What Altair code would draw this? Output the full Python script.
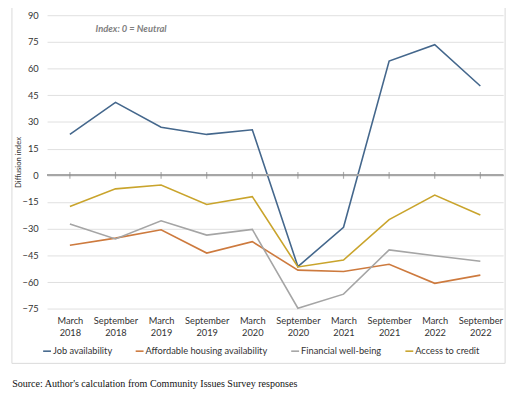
import altair as alt
import pandas as pd

categories = ["March 2018", "September 2018", "March 2019", "September 2019", "March 2020",
              "September 2020", "March 2021", "September 2021", "March 2022", "September 2022"]
series_names = ["Job availability", "Affordable housing availability", "Financial well-being", "Access to credit"]
job = [23, 41, 27, 23, 25.6, -51.3, -29.2, 64.2, 73.4, 50.2]
housing = [-39.3, -35.3, -30.6, -43.7, -37.3, -53.3, -54.1, -50.0, -60.7, -56.1]
financial = [-27.3, -35.8, -25.6, -33.6, -30.4, -74.7, -66.8, -41.9, -45.2, -48.3]
credit = [-17.5, -7.6, -5.4, -16.4, -12.0, -51.5, -47.6, -24.9, -11.1, -22.3]
colors = ["#44678C", "#CD7A3E", "#A5A5A5", "#C9A42C"]
y_ticks = [90, 75, 60, 45, 30, 15, 0, -15, -30, -45, -60, -75]
annotation = ["Index: 0 = Neutral"]
source = ["Source: Author's calculation from Community Issues Survey responses"]

rows = []
for name, vals in zip(series_names, [job, housing, financial, credit]):
    for c, v in zip(categories, vals):
        rows.append({"category": c, "series": name, "value": v})
df = pd.DataFrame(rows)
cat_df = pd.DataFrame({"category": categories})

W, H = 463.3, 298.2
FONT = "Lato"
FS = 9.4
xscale = alt.Scale(type="point", padding=0.5, domain=categories)
yscale = alt.Scale(domain=[-75, 90], nice=False, zero=False)

xaxis = alt.Axis(title=None, labelExpr="split(datum.label, ' ')", labelAngle=0,
                 domain=False, ticks=False, labelPadding=8, labelFontSize=FS,
                 labelColor="#333333", labelLineHeight=12.5, grid=False,
                 labelFont=FONT, labelOverlap=False)
yaxis = alt.Axis(title="Diffusion index", values=y_ticks, domain=False, ticks=False,
                 labelPadding=9, labelFontSize=FS, labelColor="#333333",
                 labelFont=FONT, gridColor="#e0e0e0", gridWidth=1, grid=True,
                 labelOverlap=False, labelBound=False, labelFlush=False,
                 titleFontSize=7.8, titleFont=FONT, titleFontWeight="normal",
                 titleColor="#333333", titlePadding=0)

frame = alt.Chart(pd.DataFrame({"a": [0]})).mark_rect(
    fillOpacity=0, stroke="#d9d9d9", strokeWidth=1
).encode(x=alt.value(-35.7), x2=alt.value(465.3), y=alt.value(-9.3), y2=alt.value(353.7))

lines = alt.Chart(df).mark_line(strokeWidth=1.6).encode(
    x=alt.X("category:N", scale=xscale, sort=categories, axis=xaxis),
    y=alt.Y("value:Q", scale=yscale, axis=yaxis),
    color=alt.Color("series:N", scale=alt.Scale(domain=series_names, range=colors),
                    sort=series_names,
                    legend=alt.Legend(title=None, orient="none", legendX=-5, legendY=336,
                                      direction="horizontal", symbolType="stroke",
                                      symbolSize=64, symbolStrokeWidth=1.6, labelOffset=1,
                                      columnPadding=20, labelFontSize=FS, labelFont=FONT,
                                      labelColor="#333333", columns=4)),
)

zero = alt.Chart(cat_df).mark_rule(color="#a6a6a6", strokeWidth=1.5).encode(
    y=alt.datum(0, scale=yscale, axis=yaxis)
)
ticks = alt.Chart(cat_df).mark_tick(orient="vertical", size=7, thickness=1.2, color="#8c8c8c").encode(
    x=alt.X("category:N", scale=xscale, sort=categories, axis=xaxis),
    y=alt.datum(0, scale=yscale, axis=yaxis),
)

annot = alt.Chart(pd.DataFrame({"t": annotation})).mark_text(
    align="left", baseline="middle", fontStyle="italic", fontWeight="bold", fontSize=9.5,
    font=FONT, color="#7f7f7f"
).encode(x=alt.value(49.3), y=alt.value(13.7), text="t:N")

src = alt.Chart(pd.DataFrame({"t": source})).mark_text(
    align="left", baseline="middle", fontSize=10.2, font="Liberation Serif", color="#111111"
).encode(x=alt.value(-35.5), y=alt.value(374.5), text="t:N")

chart = alt.layer(frame, lines, zero, ticks, annot, src).properties(
    width=W, height=H,
    autosize=alt.AutoSizeParams(type="none"),
    padding={"left": 39.7, "top": 4.3, "right": 9, "bottom": 79},
).configure_view(stroke=None)

chart.save("out.html", embed_options={"renderer": "svg", "actions": False})
